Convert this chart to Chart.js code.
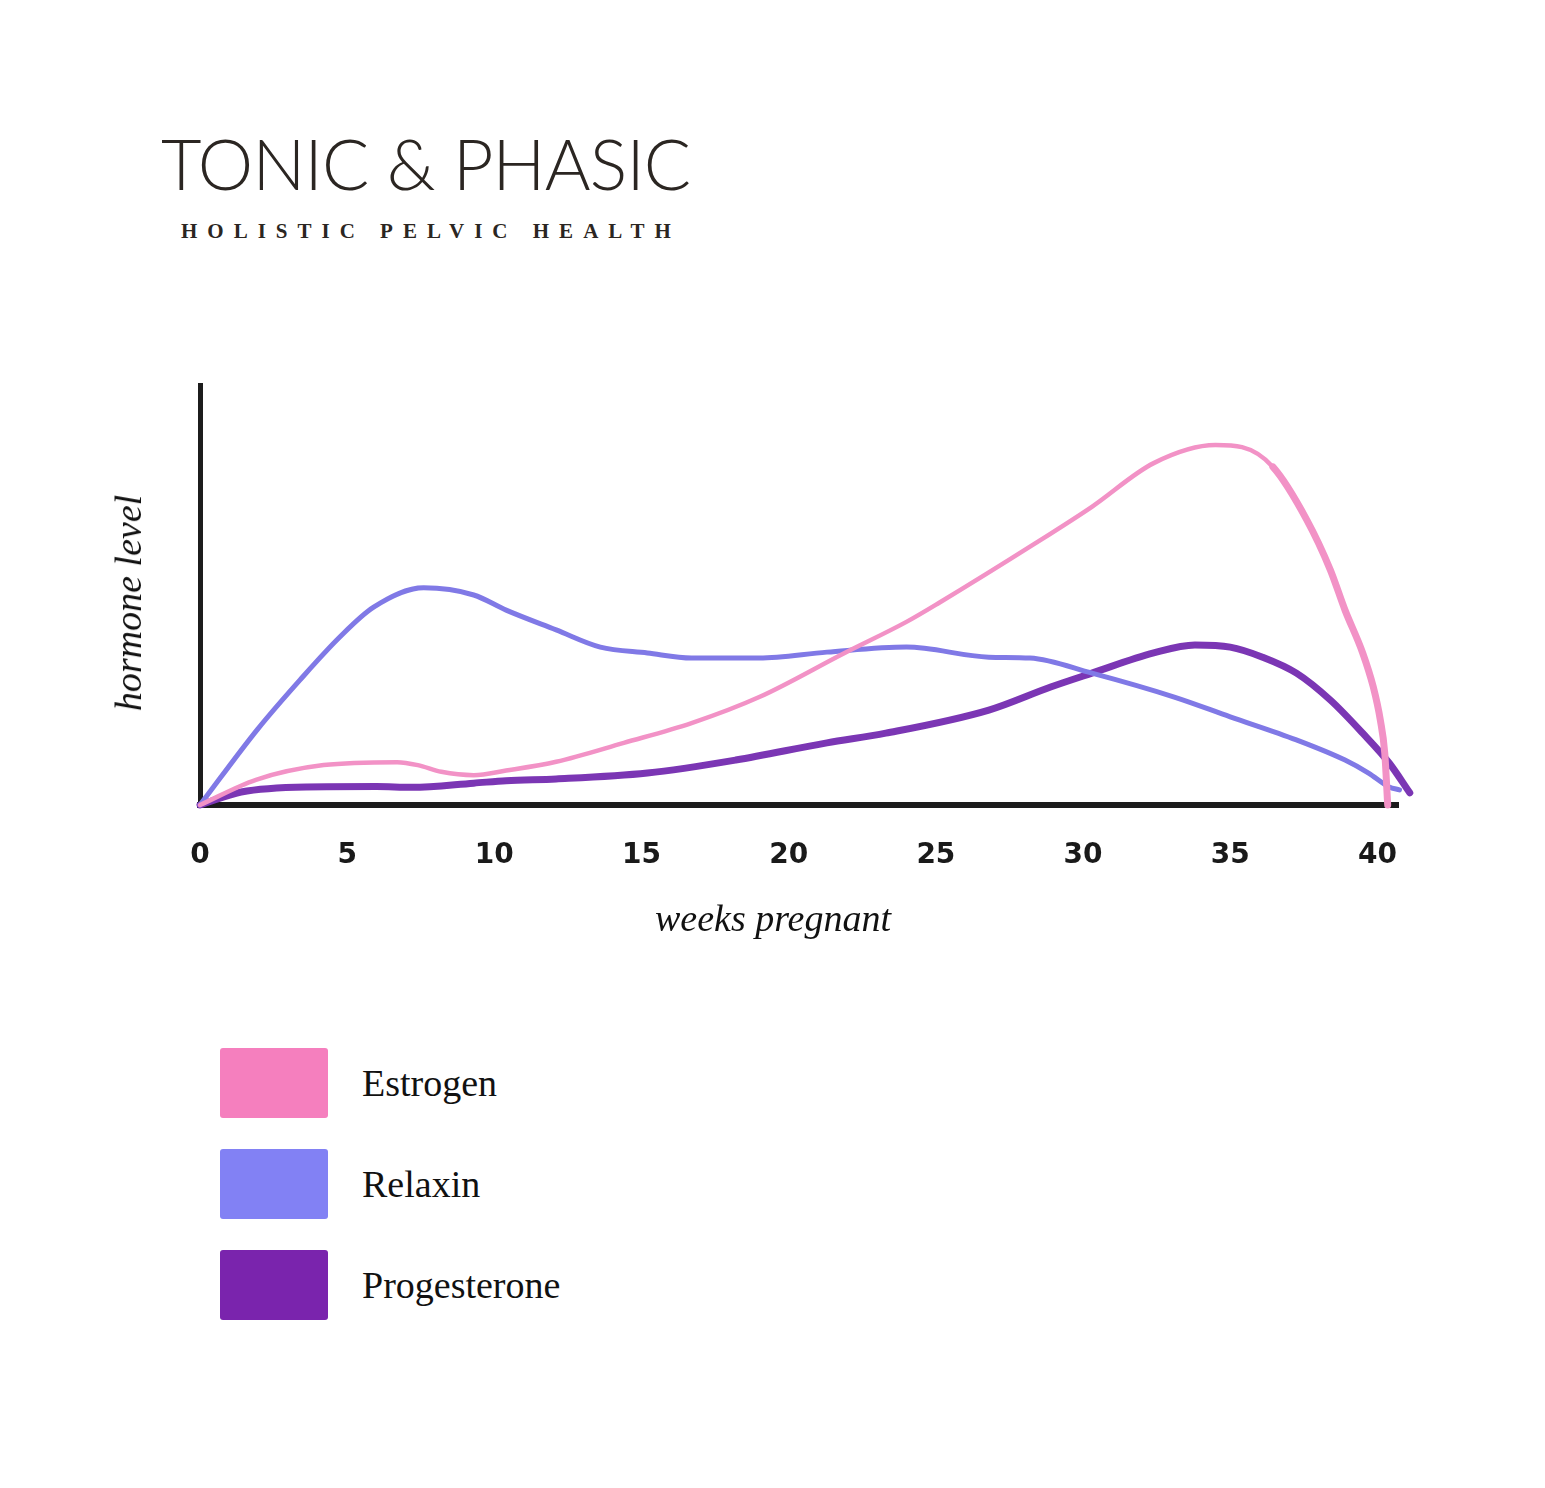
<!DOCTYPE html>
<html>
<head>
<meta charset="utf-8">
<title>Hormone levels during pregnancy</title>
<script src="https://cdn.jsdelivr.net/npm/chart.js@4.4.1/dist/chart.umd.min.js"></script>
<style>
  body { margin: 0; background: #fff; width: 1545px; height: 1488px; position: relative; overflow: hidden; }
  .brand { position: absolute; left: 161px; top: 128px; font-family: Lato, "Noto Sans", sans-serif; font-weight: 300; font-size: 70px; color: #2b2622; letter-spacing: -0.8px; line-height: 1; }
  .tagline { position: absolute; left: 181px; top: 221px; font-family: "Liberation Serif", serif; font-weight: bold; font-size: 21px; color: #2b2622; letter-spacing: 10px; line-height: 1; }
  #wrap { position: absolute; left: 0; top: 340px; width: 1545px; height: 560px; }
  .ytitle { position: absolute; left: 128px; top: 603px; transform: translate(-50%, -50%) rotate(-90deg); font-family: "Liberation Serif", serif; font-style: italic; font-size: 38px; color: #111; white-space: nowrap; }
  .xtitle { position: absolute; left: 773px; top: 918px; transform: translate(-50%, -50%); font-family: "Liberation Serif", serif; font-style: italic; font-size: 38px; color: #111; white-space: nowrap; }
  #legend { position: absolute; left: 220px; top: 1047px; }
  .item { display: flex; align-items: center; height: 72px; margin-bottom: 29px; }
  .swatch { width: 108px; height: 70px; border-radius: 3px; }
  .item span { margin-left: 34px; font-family: "Liberation Serif", serif; font-size: 38px; color: #111; }
</style>
</head>
<body>
<div class="brand">TONIC &amp; PHASIC</div>
<div class="tagline">HOLISTIC PELVIC HEALTH</div>
<div id="wrap"><canvas id="chart"></canvas></div>
<div class="ytitle">hormone level</div>
<div class="xtitle">weeks pregnant</div>
<div id="legend"></div>
<script>
// tick labels on the week axis
const weekTicks = [0, 5, 10, 15, 20, 25, 30, 35, 40];

// series names and marker colours
const seriesNames = ['Estrogen', 'Relaxin', 'Progesterone'];
const lineColors = ['#f292c6', '#8079e6', '#7b36b4'];
const swatchColors = ['#f57fbe', '#8281f4', '#7a24ad'];

// values (hormone level 0..100)
const estrogenWeeks = [0, 1.9, 4.2, 6.7, 7.4, 8.2, 9.3, 10.4, 12.1, 14.4, 16.7, 19, 21.9, 24, 25.1, 28.4, 30.3, 32.4, 34.5, 35.4, 36.45, 37.6, 38.4, 38.9, 39.5, 39.86, 40.1, 40.25, 40.35];
const estrogenLevel = [0, 6.0, 9.5, 10.2, 9.5, 7.9, 7.1, 8.2, 10.3, 14.8, 19.5, 25.7, 36.2, 43.6, 48.1, 62.4, 71.0, 81.4, 85.7, 85.2, 80.5, 67.9, 56.0, 46.4, 36.2, 28.1, 20.2, 12.4, 0];

const relaxinWeeks = [0, 1.94, 3.4, 4.75, 5.9, 7.6, 9.3, 10.4, 12.1, 13.6, 15.2, 16.7, 19, 21.3, 24, 26.8, 28.2, 30.3, 33.1, 35, 37.25, 38.9, 39.7, 40.4, 40.75];
const relaxinLevel = [0, 17.9, 29.8, 40.0, 47.1, 51.7, 50.0, 46.4, 41.7, 37.6, 36.2, 35.0, 35.0, 36.4, 37.6, 35.2, 35.0, 31.4, 25.7, 21.0, 15.5, 10.7, 7.6, 4.3, 3.6];

const progWeeks = [0, 1.4, 3.6, 6.0, 7.2, 9.3, 10.4, 12.1, 15.2, 18.2, 21.3, 23.3, 26.8, 28.9, 30.3, 32.4, 33.8, 35, 36.1, 37.25, 38.4, 39.5, 40.4, 41.1];
const progLevel = [0, 3.1, 4.3, 4.4, 4.2, 5.2, 5.8, 6.2, 7.6, 10.7, 14.8, 17.1, 22.6, 28.1, 31.4, 36.2, 38.1, 37.6, 35.2, 31.4, 25.0, 17.1, 10.0, 2.9];

function pts(xs, ys) {
  return xs.map((x, i) => ({ x: x, y: ys[i] }));
}

// estrogen marker gets heavier where it drops off at term
const estrogenWidth = ctx => ctx.p0.parsed.x >= 36.4 ? 7 : 4.5;

const series = [
  { data: pts(estrogenWeeks, estrogenLevel), width: 4.5, segWidth: estrogenWidth },
  { data: pts(relaxinWeeks, relaxinLevel), width: 5 },
  { data: pts(progWeeks, progLevel), width: 7 }
];

const datasets = series.map((s, i) => ({
  label: seriesNames[i],
  data: s.data,
  borderColor: lineColors[i],
  borderWidth: s.width,
  segment: s.segWidth ? { borderWidth: s.segWidth } : undefined,
  pointRadius: 0,
  cubicInterpolationMode: 'monotone',
  borderCapStyle: 'round',
  borderJoinStyle: 'round',
  clip: false,
  order: i
}));

new Chart(document.getElementById('chart'), {
  type: 'line',
  data: { datasets: datasets },
  options: {
    responsive: true,
    maintainAspectRatio: false,
    animation: false,
    layout: { padding: { left: 200, right: 147, top: 45, bottom: 15 } },
    plugins: { legend: { display: false }, tooltip: { enabled: false } },
    scales: {
      x: {
        type: 'linear',
        min: 0,
        max: 40.7,
        grid: { display: false },
        border: { display: true, color: '#1c1c1c', width: 6 },
        afterBuildTicks: s => { s.ticks = weekTicks.map(v => ({ value: v })); },
        afterFit: s => { s.height = 80; },
        ticks: {
          padding: 26,
          color: '#1a1a1a',
          font: { family: 'DejaVu Sans', weight: 'bold', size: 28 },
          maxRotation: 0
        }
      },
      y: {
        min: 0,
        max: 100,
        grid: { display: false },
        border: { display: true, color: '#1c1c1c', width: 5 },
        ticks: { display: false },
        afterFit: s => { s.width = 0; }
      }
    }
  }
});

// legend under the chart
const legend = document.getElementById('legend');
seriesNames.forEach((name, i) => {
  const row = document.createElement('div');
  row.className = 'item';
  row.innerHTML = '<div class="swatch" style="background:' + swatchColors[i] + '"></div><span>' + name + '</span>';
  legend.appendChild(row);
});
</script>
</body>
</html>
